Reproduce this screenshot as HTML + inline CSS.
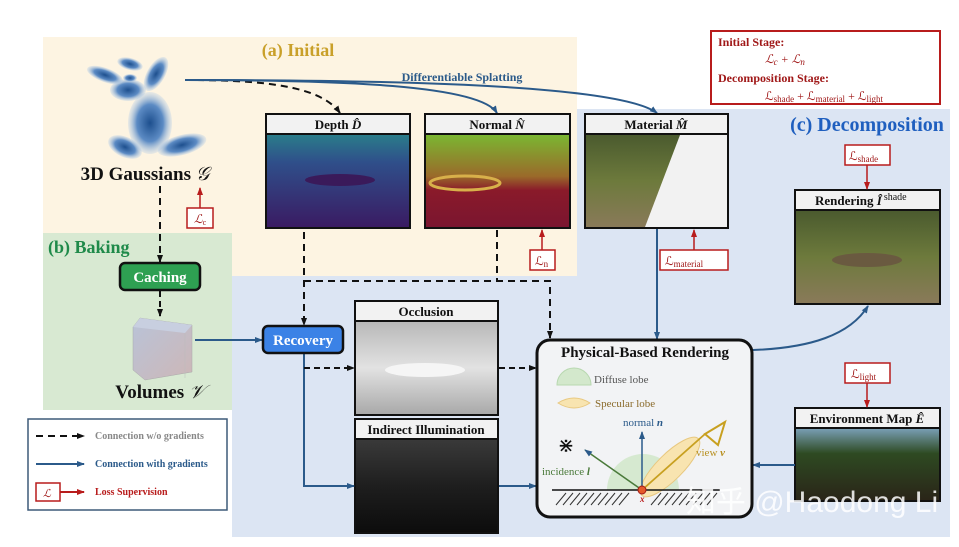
<!DOCTYPE html>
<html><head><meta charset="utf-8"><style>
html,body{margin:0;padding:0;background:#fff}
svg{display:block}
text{font-family:"Liberation Serif",serif}
</style></head><body>
<svg width="959" height="547" viewBox="0 0 959 547" xmlns="http://www.w3.org/2000/svg">
<defs>
<marker id="ab" markerWidth="8" markerHeight="8" refX="7" refY="4" orient="auto" markerUnits="userSpaceOnUse"><path d="M0,1 L8,4 L0,7z" fill="#2b5a8a"/></marker>
<marker id="ak" markerWidth="8" markerHeight="8" refX="7" refY="4" orient="auto" markerUnits="userSpaceOnUse"><path d="M0,1 L8,4 L0,7z" fill="#111"/></marker>
<marker id="ar" markerWidth="8" markerHeight="8" refX="7" refY="4" orient="auto" markerUnits="userSpaceOnUse"><path d="M0,1 L8,4 L0,7z" fill="#b81c1c"/></marker>
<radialGradient id="gb"><stop offset="0" stop-color="#1d4f8e"/><stop offset="0.6" stop-color="#5c8bc4"/><stop offset="1" stop-color="#b8cfe8" stop-opacity="0.3"/></radialGradient>
<linearGradient id="dep" x1="0" y1="0" x2="0" y2="1"><stop offset="0" stop-color="#2a7e8a"/><stop offset="0.3" stop-color="#2f4f8a"/><stop offset="1" stop-color="#3a1a62"/></linearGradient>
<linearGradient id="nor" x1="0" y1="0" x2="0" y2="1"><stop offset="0" stop-color="#7ab832"/><stop offset="0.45" stop-color="#9a6a2a"/><stop offset="0.6" stop-color="#8a1a2a"/><stop offset="1" stop-color="#7a1530"/></linearGradient>
<linearGradient id="pho" x1="0" y1="0" x2="0" y2="1"><stop offset="0" stop-color="#4a5a2e"/><stop offset="0.5" stop-color="#6d7a3c"/><stop offset="1" stop-color="#8a7a5a"/></linearGradient>
<linearGradient id="occ" x1="0" y1="0" x2="0" y2="1"><stop offset="0" stop-color="#b8b8b8"/><stop offset="0.5" stop-color="#e2e2e2"/><stop offset="1" stop-color="#a8a8a8"/></linearGradient>
<linearGradient id="ind" x1="0" y1="0" x2="0" y2="1"><stop offset="0" stop-color="#3a3a3a"/><stop offset="0.5" stop-color="#1e1e1e"/><stop offset="1" stop-color="#0c0c0c"/></linearGradient>
<linearGradient id="env" x1="0" y1="0" x2="0" y2="1"><stop offset="0" stop-color="#7aa0b8"/><stop offset="0.35" stop-color="#2e4a22"/><stop offset="1" stop-color="#2a2418"/></linearGradient>
<linearGradient id="cube" x1="0" y1="0" x2="1" y2="1"><stop offset="0" stop-color="#b9c3d8"/><stop offset="1" stop-color="#cdb7b7"/></linearGradient>
</defs>

<rect x="43" y="37" width="534" height="239" fill="#fdf4e2"/>
<rect x="43" y="233" width="189" height="177" fill="#d8e9d2"/>
<path d="M577,109 H950 V537 H232 V276 H577z" fill="#dce5f3"/>

<text x="298" y="56" font-size="18" font-weight="bold" fill="#c9a02a" text-anchor="middle">(a) Initial</text>
<text x="48" y="253" font-size="18" font-weight="bold" fill="#1f8a4a">(b) Baking</text>
<text x="867" y="131" font-size="20" font-weight="bold" fill="#1f5fbf" text-anchor="middle">(c) Decomposition</text>

<rect x="711" y="31" width="229" height="73" fill="#fff" stroke="#b81c1c" stroke-width="2"/>
<text x="718" y="46" font-size="12" font-weight="bold" fill="#a01818">Initial Stage:</text>
<text x="765" y="63" font-size="12" font-style="italic" fill="#a01818">ℒ<tspan font-size="9" dy="2">c</tspan><tspan dy="-2"> + ℒ</tspan><tspan font-size="9" dy="2">n</tspan></text>
<text x="718" y="82" font-size="12" font-weight="bold" fill="#a01818">Decomposition Stage:</text>
<text x="765" y="100" font-size="12" fill="#a01818">ℒ<tspan font-size="9" dy="2">shade</tspan><tspan dy="-2"> + ℒ</tspan><tspan font-size="9" dy="2">material</tspan><tspan dy="-2"> + ℒ</tspan><tspan font-size="9" dy="2">light</tspan></text>

<g fill="url(#gb)">
<ellipse cx="150" cy="123" rx="22" ry="31"/>
<ellipse cx="125" cy="147" rx="18" ry="10" transform="rotate(25 125 147)"/>
<ellipse cx="182" cy="145" rx="25" ry="10" transform="rotate(-15 182 145)"/>
<ellipse cx="128" cy="90" rx="18" ry="11"/>
<ellipse cx="105" cy="75" rx="19" ry="7" transform="rotate(20 105 75)"/>
<ellipse cx="130" cy="64" rx="13" ry="6" transform="rotate(15 130 64)"/>
<ellipse cx="156" cy="74" rx="9" ry="19" transform="rotate(30 156 74)"/>
<ellipse cx="130" cy="78" rx="7" ry="4"/>
</g>
<text x="145" y="180" font-size="19" font-weight="bold" fill="#111" text-anchor="middle">3D Gaussians <tspan font-style="italic" font-weight="normal">𝒢</tspan></text>

<text x="462" y="81" font-size="12" font-weight="bold" fill="#2b5a8a" text-anchor="middle">Differentiable Splatting</text>
<path d="M185,80 C260,80 320,85 340,113" fill="none" stroke="#111" stroke-width="2" stroke-dasharray="7,5" marker-end="url(#ak)"/>
<path d="M185,80 C340,80 480,85 497,113" fill="none" stroke="#2b5a8a" stroke-width="2" marker-end="url(#ab)"/>
<path d="M185,80 C400,80 620,85 657,113" fill="none" stroke="#2b5a8a" stroke-width="2" marker-end="url(#ab)"/>

<line x1="160" y1="186" x2="160" y2="262" stroke="#111" stroke-width="2" stroke-dasharray="7,5" marker-end="url(#ak)"/>
<rect x="187" y="208" width="26" height="20" fill="#fff" stroke="#b81c1c" stroke-width="1.5"/>
<text x="194" y="223" font-size="12" fill="#a01818" font-style="italic">ℒ<tspan font-size="8" dy="2" font-style="normal">c</tspan></text>
<line x1="200" y1="208" x2="200" y2="188" stroke="#b81c1c" stroke-width="1.5" marker-end="url(#ar)"/>

<rect x="120" y="263" width="80" height="27" rx="5" fill="#2ea052" stroke="#111" stroke-width="2.5"/>
<text x="160" y="282" font-size="15" font-weight="bold" fill="#fff" text-anchor="middle">Caching</text>
<line x1="160" y1="291" x2="160" y2="316" stroke="#111" stroke-width="2" stroke-dasharray="6,4" marker-end="url(#ak)"/>
<path d="M133,327 L140,318 L192,325 L192,372 L145,380 L133,370z" fill="url(#cube)" stroke="#aaa" stroke-width="0.5"/>
<path d="M133,327 L140,318 L192,325 L185,333z" fill="#c8cfe0"/>
<line x1="185" y1="333" x2="185" y2="378" stroke="#bbb" stroke-width="0.5"/>
<text x="160" y="398" font-size="19" font-weight="bold" fill="#111" text-anchor="middle">Volumes <tspan font-style="italic" font-weight="normal">𝒱</tspan></text>
<line x1="195" y1="340" x2="262" y2="340" stroke="#2b5a8a" stroke-width="2" marker-end="url(#ab)"/>

<rect x="28" y="419" width="199" height="91" fill="#fff" stroke="#3d5a78" stroke-width="1.5"/>
<line x1="36" y1="436" x2="84" y2="436" stroke="#111" stroke-width="2" stroke-dasharray="7,5" marker-end="url(#ak)"/>
<text x="95" y="439" font-size="10" font-weight="bold" fill="#888">Connection w/o gradients</text>
<line x1="36" y1="464" x2="84" y2="464" stroke="#2b5a8a" stroke-width="2" marker-end="url(#ab)"/>
<text x="95" y="467" font-size="10" font-weight="bold" fill="#2b5a8a">Connection with gradients</text>
<rect x="36" y="483" width="24" height="18" fill="#fff" stroke="#b81c1c" stroke-width="1.5"/>
<text x="43" y="497" font-size="11" font-style="italic" fill="#a01818">ℒ</text>
<line x1="60" y1="492" x2="84" y2="492" stroke="#b81c1c" stroke-width="2" marker-end="url(#ar)"/>
<text x="95" y="495" font-size="10" font-weight="bold" fill="#b81c1c">Loss Supervision</text>

<g stroke="#111" stroke-width="2">
<rect x="266" y="114" width="144" height="20" fill="#f2f2f2"/><rect x="266" y="134" width="144" height="94" fill="url(#dep)"/>
<rect x="425" y="114" width="145" height="20" fill="#f2f2f2"/><rect x="425" y="134" width="145" height="94" fill="url(#nor)"/>
<rect x="585" y="114" width="143" height="20" fill="#f2f2f2"/><rect x="585" y="134" width="143" height="94" fill="url(#pho)"/>
<rect x="795" y="190" width="145" height="20" fill="#f2f2f2"/><rect x="795" y="210" width="145" height="94" fill="url(#pho)"/>
<rect x="355" y="301" width="143" height="20" fill="#f2f2f2"/><rect x="355" y="321" width="143" height="94" fill="url(#occ)"/>
<rect x="355" y="419" width="143" height="20" fill="#f2f2f2"/><rect x="355" y="439" width="143" height="94" fill="url(#ind)"/>
<rect x="795" y="408" width="145" height="20" fill="#f2f2f2"/><rect x="795" y="428" width="145" height="73" fill="url(#env)"/>
</g>
<path d="M680,135 L727,135 L727,227 L645,227z" fill="#f2f2f2"/>
<ellipse cx="340" cy="180" rx="35" ry="6" fill="#3a1a5a"/>
<ellipse cx="465" cy="183" rx="35" ry="7" fill="none" stroke="#d8b04a" stroke-width="3"/>
<ellipse cx="867" cy="260" rx="35" ry="7" fill="#6a5a40"/>
<ellipse cx="425" cy="370" rx="40" ry="7" fill="#f5f5f5"/>
<text x="338" y="129" font-size="13" font-weight="bold" fill="#111" text-anchor="middle">Depth <tspan font-style="italic">D̂</tspan></text>
<text x="497" y="129" font-size="13" font-weight="bold" fill="#111" text-anchor="middle">Normal <tspan font-style="italic">N̂</tspan></text>
<text x="656" y="129" font-size="13" font-weight="bold" fill="#111" text-anchor="middle">Material <tspan font-style="italic">M̂</tspan></text>
<text x="815" y="205" font-size="13" font-weight="bold" fill="#111">Rendering <tspan font-style="italic">Î</tspan><tspan font-size="10" dx="2" dy="-5" font-weight="normal">shade</tspan></text>
<text x="426" y="316" font-size="13" font-weight="bold" fill="#111" text-anchor="middle">Occlusion</text>
<text x="426" y="434" font-size="13" font-weight="bold" fill="#111" text-anchor="middle">Indirect Illumination</text>
<text x="867" y="423" font-size="13" font-weight="bold" fill="#111" text-anchor="middle">Environment Map <tspan font-style="italic">Ê</tspan></text>

<rect x="530" y="250" width="25" height="20" fill="#fff" stroke="#b81c1c" stroke-width="1.5"/>
<text x="535" y="265" font-size="12" fill="#a01818">ℒ<tspan font-size="9" dy="2">n</tspan></text>
<line x1="542" y1="250" x2="542" y2="230" stroke="#b81c1c" stroke-width="1.5" marker-end="url(#ar)"/>
<rect x="660" y="250" width="68" height="20" fill="#fff" stroke="#b81c1c" stroke-width="1.5"/>
<text x="665" y="265" font-size="12" fill="#a01818">ℒ<tspan font-size="9" dy="2">material</tspan></text>
<line x1="694" y1="250" x2="694" y2="230" stroke="#b81c1c" stroke-width="1.5" marker-end="url(#ar)"/>
<rect x="845" y="145" width="45" height="20" fill="#fff" stroke="#b81c1c" stroke-width="1.5"/>
<text x="849" y="160" font-size="12" fill="#a01818">ℒ<tspan font-size="9" dy="2">shade</tspan></text>
<line x1="867" y1="165" x2="867" y2="189" stroke="#b81c1c" stroke-width="1.5" marker-end="url(#ar)"/>
<rect x="845" y="363" width="45" height="20" fill="#fff" stroke="#b81c1c" stroke-width="1.5"/>
<text x="851" y="378" font-size="12" fill="#a01818">ℒ<tspan font-size="9" dy="2">light</tspan></text>
<line x1="867" y1="383" x2="867" y2="407" stroke="#b81c1c" stroke-width="1.5" marker-end="url(#ar)"/>

<line x1="304" y1="232" x2="304" y2="325" stroke="#111" stroke-width="2" stroke-dasharray="7,5" marker-end="url(#ak)"/>
<path d="M497,230 V281 M304,281 H550 V338" fill="none" stroke="#111" stroke-width="2" stroke-dasharray="7,5" marker-end="url(#ak)"/>
<line x1="657" y1="229" x2="657" y2="339" stroke="#2b5a8a" stroke-width="2" marker-end="url(#ab)"/>
<path d="M304,354 V486 H354" fill="none" stroke="#2b5a8a" stroke-width="2" marker-end="url(#ab)"/>
<line x1="304" y1="368" x2="354" y2="368" stroke="#111" stroke-width="2" stroke-dasharray="6,4" marker-end="url(#ak)"/>
<line x1="499" y1="368" x2="536" y2="368" stroke="#111" stroke-width="2" stroke-dasharray="6,4" marker-end="url(#ak)"/>
<line x1="499" y1="486" x2="536" y2="486" stroke="#2b5a8a" stroke-width="2" marker-end="url(#ab)"/>
<line x1="795" y1="465" x2="753" y2="465" stroke="#2b5a8a" stroke-width="2" marker-end="url(#ab)"/>
<path d="M753,350 C810,348 850,335 868,306" fill="none" stroke="#2b5a8a" stroke-width="2" marker-end="url(#ab)"/>

<rect x="263" y="326" width="80" height="27" rx="5" fill="#3b82e6" stroke="#111" stroke-width="2.5"/>
<text x="303" y="345" font-size="15" font-weight="bold" fill="#fff" text-anchor="middle">Recovery</text>

<rect x="537" y="340" width="215" height="177" rx="13" fill="#f2f3f5" stroke="#111" stroke-width="3"/>
<text x="645" y="357" font-size="15" font-weight="bold" fill="#111" text-anchor="middle">Physical-Based Rendering</text>
<path d="M557,385 A17,17 0 0 1 591,385z" fill="#d3e8cc" stroke="#b8d8b0"/>
<text x="594" y="383" font-size="11" fill="#555">Diffuse lobe</text>
<path d="M558,403 Q574,393 590,403 Q574,413 558,403z" fill="#f8e4b0" stroke="#e8c880"/>
<text x="595" y="407" font-size="11" fill="#8a6a2a">Specular lobe</text>
<path d="M607,490 A36,36 0 0 1 679,490z" fill="#d3e8cc" opacity="0.9"/>
<ellipse cx="670" cy="467" rx="40" ry="13" transform="rotate(-45 670 467)" fill="#f8e4b0" stroke="#e8c880"/>
<line x1="552" y1="490" x2="720" y2="490" stroke="#111" stroke-width="1.5"/>
<g stroke="#333" stroke-width="1"><path d="M556,505 l10,-12 M563,505 l10,-12 M570,505 l10,-12 M577,505 l10,-12 M584,505 l10,-12 M591,505 l10,-12 M598,505 l10,-12 M605,505 l10,-12 M612,505 l10,-12 M619,505 l10,-12 M651,505 l10,-12 M658,505 l10,-12 M665,505 l10,-12 M672,505 l10,-12 M679,505 l10,-12 M686,505 l10,-12 M693,505 l10,-12 M700,505 l10,-12 M707,505 l10,-12"/></g>
<line x1="642" y1="490" x2="642" y2="432" stroke="#2b5a8a" stroke-width="1.5" marker-end="url(#ab)"/>
<text x="623" y="426" font-size="11" fill="#2b5a8a">normal <tspan font-style="italic" font-weight="bold">n</tspan></text>
<line x1="642" y1="490" x2="585" y2="450" stroke="#4a7a3a" stroke-width="1.5" marker-end="url(#ab)"/>
<text x="542" y="475" font-size="11" fill="#4a7a3a">incidence <tspan font-style="italic" font-weight="bold">l</tspan></text>
<line x1="642" y1="490" x2="705" y2="434" stroke="#c8a020" stroke-width="1.8"/>
<path d="M705,434 L725,422 L718,445z" fill="none" stroke="#c8a020" stroke-width="2"/>
<text x="696" y="456" font-size="11" fill="#b89020">view <tspan font-style="italic" font-weight="bold">v</tspan></text>
<text x="566" y="452" font-size="20" fill="#111" text-anchor="middle">⋇</text>
<circle cx="642" cy="490" r="4" fill="#e55a2a" stroke="#a01818"/>
<text x="640" y="502" font-size="9" font-style="italic" font-weight="bold" fill="#b81c1c">x</text>

<text x="812" y="512" font-size="30" fill="#fff" fill-opacity="0.85" text-anchor="middle" style="font-family:'Liberation Sans','Noto Sans CJK SC',sans-serif">知乎 @Haodong Li</text>
</svg>
</body></html>
